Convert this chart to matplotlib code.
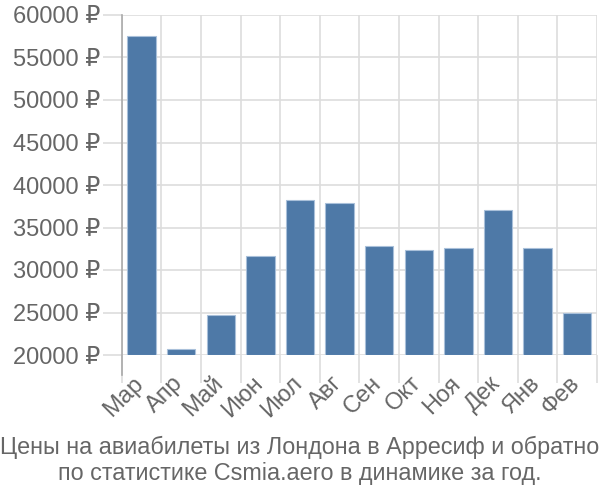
import matplotlib
matplotlib.use("Agg")
import matplotlib.pyplot as plt
import matplotlib.transforms as mtransforms
import numpy as np

plt.rcParams['font.family'] = ['Liberation Sans', 'DejaVu Sans']

months = ["Мар", "Апр", "Май", "Июн", "Июл", "Авг", "Сен", "Окт", "Ноя", "Дек", "Янв", "Фев"]
prices = [57500, 20700, 24700, 31600, 38200, 37900, 32800, 32300, 32600, 37100, 32600, 25000]
yticks = [20000, 25000, 30000, 35000, 40000, 45000, 50000, 55000, 60000]
title = "Цены на авиабилеты из Лондона в Арресиф и обратно\nпо статистике Csmia.aero в динамике за год."

fig = plt.figure(figsize=(6, 5), dpi=100)
ax = fig.add_axes([0.203, 0.29, 0.792, 0.68])

x = np.arange(len(months))
ax.bar(x, [p - 20000 for p in prices], bottom=20000, width=0.72,
       color="#4e79a7", edgecolor="#a9c0da", linewidth=0.8, zorder=3)

ax.set_xlim(-0.5, len(months) - 0.5)
ax.set_ylim(20000, 60000)
ax.set_yticks(yticks)
ax.set_yticklabels([f"{v} ₽" for v in yticks])
ax.set_xticks(x)
ax.set_xticklabels(months, rotation=45, ha="right", rotation_mode="anchor")
ax.set_xticks(np.arange(-0.5, len(months)), minor=True)

ax.grid(axis="y", color="#dddddd", linewidth=1.2, zorder=0)
ax.grid(axis="x", which="minor", color="#dddddd", linewidth=1.2, zorder=0)
ax.grid(axis="x", which="major", visible=False)

ax.tick_params(axis="x", which="major", length=0, pad=12.5, labelsize=17, labelcolor="#666666")
ax.tick_params(axis="x", which="minor", length=20, color="#dddddd", width=1.2)
ax.tick_params(axis="y", length=13.5, color="#dddddd", width=1.2, pad=2, labelsize=17, labelcolor="#666666")

offset = mtransforms.ScaledTranslation(-0.09, 0, fig.dpi_scale_trans)
for lab in ax.get_xticklabels():
    lab.set_transform(lab.get_transform() + offset)

for s in ["top", "right", "bottom"]:
    ax.spines[s].set_visible(False)
ax.spines["left"].set_color("#aaaaaa")
ax.spines["left"].set_linewidth(1.2)
ax.spines["left"].set_bounds(17700, 60000)

fig.text(0.5, 0.08, title, ha="center", va="center", fontsize=16.8, color="#666666", linespacing=1.17)

fig.savefig("out.png", dpi=100)
